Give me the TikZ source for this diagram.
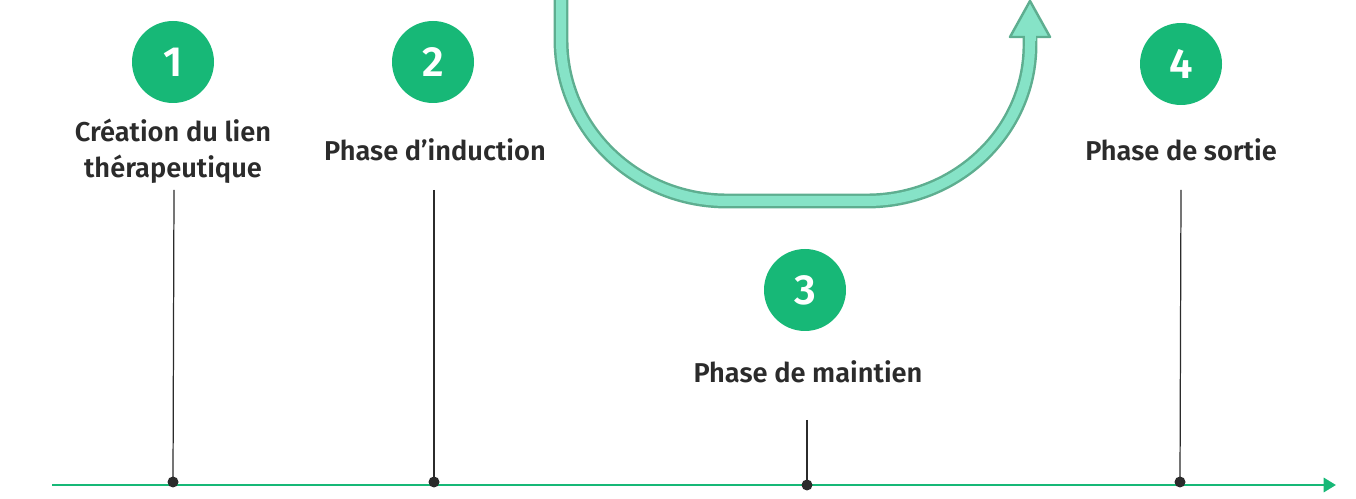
\documentclass[tikz,border=0pt]{standalone}
\usepackage{fontspec}
\setmainfont{Fira Sans}[BoldFont={* SemiBold}]
\usetikzlibrary{arrows.meta,positioning}
\definecolor{vert}{HTML}{17B877}
\definecolor{mint}{HTML}{86E3C7}
\definecolor{mintdk}{HTML}{5EAE90}
\definecolor{encre}{HTML}{2B2B2B}
\tikzset{
  num/.style={circle,fill=vert,minimum size=82*0.02cm,inner sep=0pt,
              font=\fontsize{24}{24}\selectfont\bfseries,text=white},
  lbl/.style={font=\fontsize{15.5}{20.5}\selectfont\bfseries,text=encre,
              align=center},
  dot/.style={circle,fill=encre,minimum size=11*0.02cm,inner sep=0pt},
  stem/.style={draw=encre,line width=0.7pt},
  axe/.style={-{Triangle[length=7pt,width=8pt]},draw=vert,line width=1.6pt},
  boucle/.style={draw=mintdk,double=mint,double distance=10*0.02cm,
                 line width=1.4pt},
}

\begin{document}
\begin{tikzpicture}[x=0.02cm,y=-0.02cm]
  \useasboundingbox (0,0) rectangle (1356,499);

  % étapes
  \node[num] (n1) at (173,62)  {1};
  \node[num] (n2) at (433,62)  {2};
  \node[num] (n3) at (805,290) {3};
  \node[num] (n4) at (1181,64) {4};

  \node[lbl] (l1) at (173,151) {Création du lien\\thérapeutique};
  \node[lbl] (l2) at (435,150) {Phase d’induction};
  \node[lbl] (l3) at (808,372) {Phase de maintien};
  \node[lbl] (l4) at (1181,150) {Phase de sortie};

  % axe du temps
  \coordinate (a0) at (52,485);
  \coordinate (a1) at (1336,485);
  \draw[axe] (a0) -- (a1);

  \node[dot] (d1) at (173,482) {};
  \node[dot] (d2) at (434,482) {};
  \node[dot] (d3) at (807,485) {};
  \node[dot] (d4) at (1180,482) {};

  \coordinate (t1) at (174,190);
  \coordinate (t2) at (434,190);
  \coordinate (t3) at (807,420);
  \coordinate (t4) at (1181,190);
  \draw[stem] (t1) -- (d1.center);
  \draw[stem] (t2) -- (d2.center);
  \draw[stem] (t3) -- (d3.center);
  \draw[stem] (t4) -- (d4.center);

  % fleche en U
  \coordinate (u0) at (561,-2);
  \coordinate (u1) at (561,40);
  \coordinate (u2) at (727,201);
  \coordinate (u3) at (867,201);
  \coordinate (u4) at (1030,45);
  \coordinate (u5) at (1030,30);
  \draw[boucle] (u0) -- (u1)
    .. controls (561,129) and (635,201) .. (u2) -- (u3)
    .. controls (957,201) and (1030,131) .. (u4) -- (u5);
  \draw[mintdk,fill=mint,line width=1.4pt,line join=round]
    (1010,37) -- (1030,1) -- (1050,37) -- cycle;
  \fill[mint] (1024.5,30) rectangle (1035.5,41);
\end{tikzpicture}
\end{document}
